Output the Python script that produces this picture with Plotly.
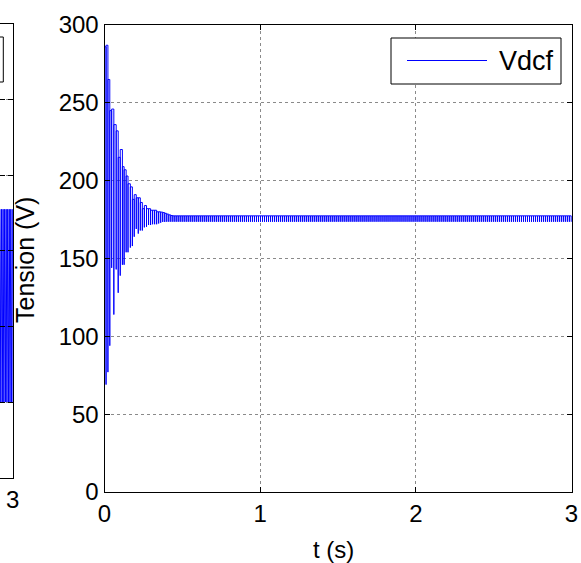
import plotly.graph_objects as go

W, H = 581, 563
FONT = "Liberation Sans, Arial, Helvetica, sans-serif"

# ---------------- data ----------------
# Main plot: Vdcf transient, one entry per visible oscillation line (time s, high V, low V)
cycle_t = [0.000, 0.010, 0.022, 0.034, 0.046, 0.060, 0.075, 0.088, 0.101, 0.115,
           0.126, 0.139, 0.151, 0.166, 0.179, 0.191, 0.204, 0.217, 0.230, 0.243,
           0.256, 0.270, 0.283, 0.296, 0.309, 0.322, 0.335, 0.348, 0.361, 0.374,
           0.387, 0.400, 0.413, 0.426]
cycle_hi = [286, 287, 265, 245, 246, 236, 232, 215, 220, 209,
            207, 203, 198, 196, 188, 191, 189, 189, 186, 182,
            184, 182, 182, 181, 181, 181, 180, 180, 179.8, 179.5,
            179, 178.5, 178, 177.6]
cycle_lo = [0, 69, 77, 94, 144, 114, 143, 128, 139, 146,
            146, 154, 154, 157, 158, 164, 169, 166, 168, 168,
            170, 170.4, 171.5, 171.5, 172, 172, 172, 172.5, 173, 173.5,
            173.5, 173.6, 173.6, 173.6]

# Steady-state ripple (read levels and period)
ss_start, ss_end, ss_period = 0.439, 3.0, 0.0128
ss_hi, ss_lo = 177.4, 173.6

# Left (cropped) neighbour plot: only its right end is visible
left_t0, left_t1, left_period = 2.918, 3.0, 0.01
left_hi, left_lo = 3.55, 1.0

x_ticks = [0, 1, 2, 3]
y_ticks = [0, 50, 100, 150, 200, 250, 300]
left_y_ticks = [0, 1, 2, 3, 4, 5, 6]

# ---------------- build series ----------------
xs, ys = [], []
for t, h, l in zip(cycle_t, cycle_hi, cycle_lo):
    xs += [t, t]
    ys += [l, h]
n_ss = int((ss_end - ss_start) / ss_period) + 1
for k in range(n_ss):
    t = ss_start + k * ss_period
    xs += [t, t]
    ys += [ss_lo, ss_hi]

lx, ly = [], []
n_l = int((left_t1 - left_t0) / left_period) + 2
for k in range(n_l):
    t = left_t0 + k * left_period
    lx += [t, t + left_period / 2]
    ly += [left_hi, left_lo]


def px(x):
    return x / W


def py(y):
    return 1 - y / H


fig = go.Figure()
fig.add_trace(go.Scatter(x=xs, y=ys, mode="lines", line=dict(color="#0000ff", width=1, shape="hv"),
                         name="Vdcf", showlegend=False, xaxis="x", yaxis="y"))
fig.add_trace(go.Scatter(x=lx, y=ly, mode="lines", line=dict(color="#0000ff", width=1),
                         showlegend=False, xaxis="x2", yaxis="y2"))

axis_common = dict(showline=True, linecolor="black", linewidth=1, mirror="ticks",
                   ticks="inside", ticklen=5, tickcolor="black", tickwidth=1,
                   showgrid=True, gridcolor="#8a8a8a", griddash="dot", gridwidth=1,
                   zeroline=False, automargin=False,
                   tickfont=dict(family=FONT, size=24, color="black"))

fig.update_layout(
    width=W, height=H, margin=dict(l=0, r=0, t=0, b=0, autoexpand=False),
    paper_bgcolor="white", plot_bgcolor="white",
    xaxis=dict(domain=[px(104.5), px(571.5)], range=[0, 3], tickvals=x_ticks,
               ticktext=[str(v) for v in x_ticks], anchor="y", **axis_common),
    yaxis=dict(domain=[py(492), py(25)], range=[0, 300], tickvals=y_ticks,
               ticktext=[str(v) for v in y_ticks], anchor="x", **axis_common),
    xaxis2=dict(domain=[0, px(12.7)], range=[left_t0, 3.0005], tickvals=[3], ticktext=["3"],
                anchor="y2", **axis_common),
    yaxis2=dict(domain=[py(477.7), py(24)], range=[0, 6], tickvals=left_y_ticks,
                showticklabels=False, anchor="x2", **axis_common),
    showlegend=False,
)

shapes = [
    # legend box of the main plot
    dict(type="rect", xref="paper", yref="paper", x0=px(391), x1=px(561), y0=py(84), y1=py(38),
         line=dict(color="black", width=1), fillcolor="white", layer="above"),
    dict(type="line", xref="paper", yref="paper", x0=px(407), x1=px(487), y0=py(60.5), y1=py(60.5),
         line=dict(color="#0000ff", width=1), layer="above"),
    # edge of the neighbour plot's legend box
    dict(type="rect", xref="paper", yref="paper", x0=-0.05, x1=px(3.3), y0=py(82), y1=py(37),
         line=dict(color="black", width=1), fillcolor="white", layer="above"),
]
fig.update_layout(shapes=shapes)

annotations = [
    dict(text="Vdcf", x=px(497), y=py(61), xref="paper", yref="paper", xanchor="left", yanchor="middle",
         showarrow=False, font=dict(family=FONT, size=27, color="black")),
    dict(text="t (s)", x=px(333), y=py(549), xref="paper", yref="paper", xanchor="center", yanchor="middle",
         showarrow=False, font=dict(family=FONT, size=24, color="black")),
    dict(text="Tension (V)", x=px(25), y=py(260), xref="paper", yref="paper", xanchor="center", yanchor="middle",
         textangle=-90, showarrow=False, font=dict(family=FONT, size=25, color="black")),
]
fig.update_layout(annotations=annotations)

fig.write_html("out.html", config={"displayModeBar": False},
               post_script="document.body.style.margin='0';document.body.style.overflow='hidden';")
